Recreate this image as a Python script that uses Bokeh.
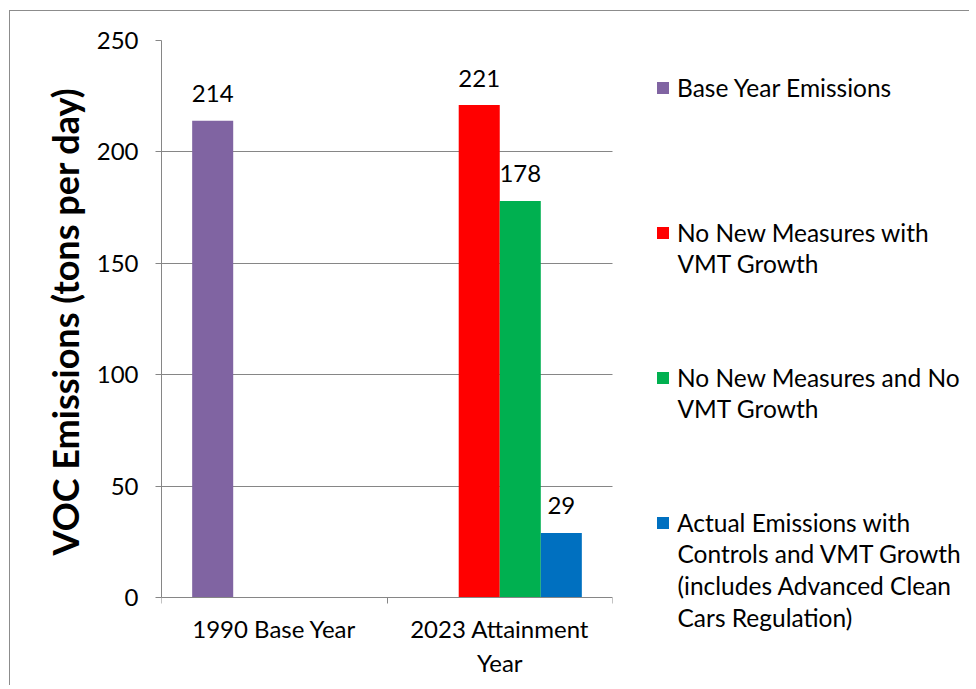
from bokeh.plotting import figure
from bokeh.models import (ColumnDataSource, Range1d, FixedTicker, Legend, LegendItem,
                          BoxAnnotation, Label, Title)
from bokeh.core.properties import value
from bokeh.embed import file_html
from bokeh.resources import INLINE

# ---- data ----
categories = ["1990 Base Year", "2023 Attainment\nYear"]
series_names = [
    "Base Year Emissions",
    "No New Measures with\nVMT Growth",
    "No New Measures and No\nVMT Growth",
    "Actual Emissions with\nControls and VMT Growth\n(includes Advanced Clean\nCars Regulation)",
]
base_year_emissions = [214, None]
no_new_measures_with_vmt_growth = [None, 221]
no_new_measures_no_vmt_growth = [None, 178]
actual_emissions_with_controls = [None, 29]
series_colors = ["#8064A2", "#FF0000", "#00B050", "#0070C0"]
y_ticks = [0, 50, 100, 150, 200, 250]
y_max = 250
y_title = "VOC Emissions (tons per day)"

series_values = [base_year_emissions, no_new_measures_with_vmt_growth,
                 no_new_measures_no_vmt_growth, actual_emissions_with_controls]

FONT = "Lato"
GRAY = "#868686"
n_series = len(series_values)
bar_w = 0.182

# layout (pixels)
W, H = 960, 675
BL, BT = 151, 29
PLOT_W, PLOT_H = 451, 557          # size of the bar area
FRAME_W, FRAME_H = W - BL, H - BT
EXTRA_B = FRAME_H - PLOT_H         # room below the bar area (axis labels, legend)
x_end = len(categories) * FRAME_W / PLOT_W
y_start = -y_max * EXTRA_B / PLOT_H

p = figure(width=W, height=H, output_backend="svg", toolbar_location=None,
           x_range=Range1d(0, x_end), y_range=Range1d(y_start, y_max),
           min_border_left=BL, min_border_right=0, min_border_top=BT,
           min_border_bottom=0)
p.styles = {"border-top": "1px solid #8c8c8c", "border-left": "1px solid #8c8c8c",
            "margin-left": "9px", "margin-top": "10px"}
p.outline_line_color = None

renderers = []
for i, (vals, color) in enumerate(zip(series_values, series_colors)):
    xs, tops, labels = [], [], []
    for ci, v in enumerate(vals):
        if v is None:
            continue
        xs.append(ci + 0.5 + (i - (n_series - 1) / 2) * bar_w)
        tops.append(v)
        labels.append(str(v))
    src = ColumnDataSource(dict(x=xs, top=tops, label=labels))
    r = p.vbar(x="x", top="top", bottom=0, width=bar_w, source=src,
               fill_color=color, line_color=None)
    p.text(x="x", y="top", text="label", source=src, text_align="center",
           text_baseline="alphabetic", y_offset=-27, text_font=value(FONT),
           text_font_size="24px", text_color="black")
    renderers.append(r)

# y axis
yax = p.yaxis[0]
yax.ticker = FixedTicker(ticks=y_ticks)
yax.bounds = (0, y_max)
yax.major_label_text_font = FONT
yax.major_label_text_font_size = "24px"
yax.major_label_text_color = "black"
yax.major_label_standoff = 17
yax.major_tick_out = 6
yax.major_tick_in = 0
yax.minor_tick_out = 0
yax.minor_tick_in = 0
yax.axis_line_color = GRAY
yax.major_tick_line_color = GRAY

# y axis title, placed alongside the bar area rather than the whole frame
p.add_layout(Title(text=y_title, text_font=FONT, text_font_style="bold",
                   text_font_size="36px", text_color="black", align="left",
                   offset=131, standoff=13), "left")

# x axis (sits on y = 0)
xax = p.xaxis[0]
xax.fixed_location = 0
centers = [ci + 0.5 for ci in range(len(categories))]
bounds = [float(ci) for ci in range(len(categories) + 1)]
xax.ticker = FixedTicker(ticks=centers, minor_ticks=bounds)
xax.bounds = (0, len(categories))
xax.major_label_overrides = {c: lab for c, lab in zip(centers, categories)}
xax.major_label_text_font = FONT
xax.major_label_text_font_size = "24px"
xax.major_label_text_color = "black"
xax.major_label_standoff = 10
xax.major_tick_out = 0
xax.major_tick_in = 0
xax.minor_tick_out = 6
xax.minor_tick_in = 0
xax.minor_tick_line_color = GRAY
xax.axis_line_color = GRAY

p.xgrid.grid_line_color = None
p.ygrid.ticker = FixedTicker(ticks=y_ticks)
p.ygrid.grid_line_color = GRAY

# blank out the legend area (grid lines stop at the plot area's right edge)
p.add_layout(BoxAnnotation(left=len(categories), fill_color="white", fill_alpha=1,
                           line_alpha=0))

# legend: one entry per series, glyph aligned with the first text line
LEG_X = 494                           # glyph left, px from the plot area's left edge
GLYPH_CENTERS = [510, 365, 220, 75]   # px above the plot area's bottom (y = 0)
LINE_PITCH = 32.3
LEG_FONT = "24.5px"
for r, name, gc in zip(renderers, series_names, GLYPH_CENTERS):
    gc = gc + EXTRA_B
    lines = name.split("\n")
    leg = Legend(items=[LegendItem(label=lines[0], renderers=[r])],
                 location=(LEG_X, gc - 15), glyph_width=15, glyph_height=15,
                 label_standoff=7, padding=0, margin=0, spacing=0,
                 label_height=30,
                 border_line_color=None, background_fill_alpha=0,
                 label_text_font=FONT, label_text_font_size=LEG_FONT,
                 label_text_color="black")
    p.add_layout(leg, "center")
    for k, line in enumerate(lines[1:]):
        p.add_layout(Label(x=LEG_X + 22, y=gc - 30.5 - LINE_PITCH * k,
                           x_units="screen", y_units="screen", text=line,
                           text_font=FONT, text_font_size=LEG_FONT,
                           text_color="black", text_baseline="alphabetic"))

open("out.html", "w").write(file_html(p, INLINE))
